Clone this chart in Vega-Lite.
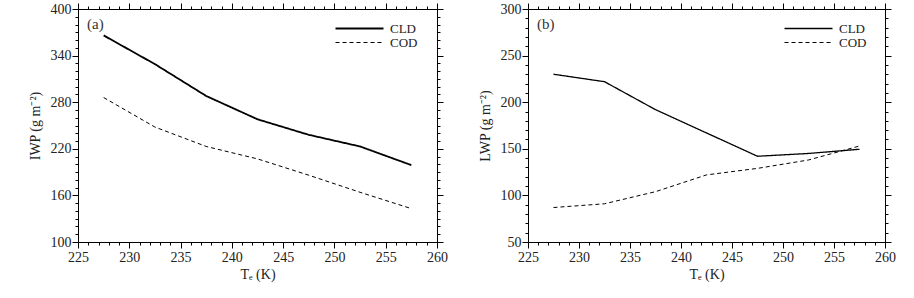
{
  "$schema": "https://vega.github.io/schema/vega-lite/v6.json",
  "padding": {"left": 27, "top": 1, "right": 5, "bottom": 5},
  "config": {
    "font": "Liberation Serif",
    "view": {"stroke": "black", "strokeWidth": 1},
    "axis": {"grid": false, "domain": false, "tickColor": "black", "labelFont": "Liberation Serif", "titleFont": "Liberation Serif", "labelFontSize": 14, "titleFontSize": 14, "labelColor": "#222", "titleColor": "#222", "titleFontWeight": "normal"},
    "title": {"font": "Liberation Serif", "fontSize": 15, "fontWeight": "normal", "color": "#333", "anchor": "start", "frame": "group", "offset": -30, "dx": 9}
  },
  "datasets": {
    "a": [
      {"T": 227.5, "series": "CLD", "value": 366},
      {"T": 232.5, "series": "CLD", "value": 329},
      {"T": 237.5, "series": "CLD", "value": 288},
      {"T": 242.5, "series": "CLD", "value": 258},
      {"T": 247.5, "series": "CLD", "value": 238},
      {"T": 252.5, "series": "CLD", "value": 223},
      {"T": 257.5, "series": "CLD", "value": 199},
      {"T": 227.5, "series": "COD", "value": 286},
      {"T": 232.5, "series": "COD", "value": 248},
      {"T": 237.5, "series": "COD", "value": 223},
      {"T": 242.5, "series": "COD", "value": 207},
      {"T": 247.5, "series": "COD", "value": 186},
      {"T": 252.5, "series": "COD", "value": 164},
      {"T": 257.5, "series": "COD", "value": 143}
    ],
    "b": [
      {"T": 227.5, "series": "CLD", "value": 230},
      {"T": 232.5, "series": "CLD", "value": 222},
      {"T": 237.5, "series": "CLD", "value": 192},
      {"T": 242.5, "series": "CLD", "value": 167},
      {"T": 247.5, "series": "CLD", "value": 142},
      {"T": 252.5, "series": "CLD", "value": 145},
      {"T": 257.5, "series": "CLD", "value": 149.5},
      {"T": 227.5, "series": "COD", "value": 87},
      {"T": 232.5, "series": "COD", "value": 91},
      {"T": 237.5, "series": "COD", "value": 104},
      {"T": 242.5, "series": "COD", "value": 122},
      {"T": 247.5, "series": "COD", "value": 129},
      {"T": 252.5, "series": "COD", "value": 138},
      {"T": 257.5, "series": "COD", "value": 153}
    ]
  },
  "spacing": 29,
  "resolve": {"scale": {"strokeDash": "independent", "strokeWidth": "independent"}, "legend": {"strokeDash": "independent"}},
  "hconcat": [
    {
      "title": "(a)",
      "width": 359, "height": 233,
      "data": {"name": "a"},
      "resolve": {"axis": {"x": "independent", "y": "independent"}},
      "layer": [
        {
          "mark": {"type": "line", "color": "black"},
          "encoding": {
            "x": {"field": "T", "type": "quantitative", "scale": {"domain": [225, 260], "nice": false, "zero": false}, "axis": {"orient": "bottom", "values": [225, 230, 235, 240, 245, 250, 255, 260], "tickSize": 6, "tickColor": "black", "labelPadding": 2, "title": "Tₑ (K)", "titlePadding": 3, "labelFlush": false}},
            "y": {"field": "value", "type": "quantitative", "scale": {"domain": [100, 400], "nice": false, "zero": false}, "axis": {"orient": "left", "values": [100, 160, 220, 280, 340, 400], "tickSize": 6, "tickColor": "black", "labelPadding": 1, "title": "IWP (g  m⁻²)", "titlePadding": 8, "labelFlush": false}},
            "strokeDash": {"field": "series", "type": "nominal", "scale": {"domain": ["CLD", "COD"], "range": [[1, 0], [4, 3]]}, "legend": {"orient": "none", "legendX": 275, "legendY": 13, "title": null, "symbolType": "M-4.8,0H4.8", "symbolSize": 100, "symbolStrokeWidth": 1.2, "labelFontSize": 13, "labelOffset": 24, "rowPadding": 0, "labelColor": "#222", "labelFont": "Liberation Serif"}},
            "strokeWidth": {"field": "series", "type": "nominal", "scale": {"domain": ["CLD", "COD"], "range": [1.8, 1]}, "legend": null}
          }
        },
        {
          "mark": {"type": "line", "strokeOpacity": 0},
          "encoding": {
            "detail": {"field": "series"},
            "x": {"field": "T", "type": "quantitative", "scale": {"domain": [225, 260], "nice": false, "zero": false}, "axis": {"orient": "bottom", "values": [226,227,228,229,231,232,233,234,236,237,238,239,241,242,243,244,246,247,248,249,251,252,253,254,256,257,258,259], "labels": false, "tickSize": 3, "tickColor": "black", "title": null}},
            "y": {"field": "value", "type": "quantitative", "scale": {"domain": [100, 400], "nice": false, "zero": false}, "axis": {"orient": "left", "values": [110,120,130,140,150,170,180,190,200,210,230,240,250,260,270,290,300,310,320,330,350,360,370,380,390], "labels": false, "tickSize": 3, "tickColor": "black", "title": null}}
          }
        },
        {
          "mark": {"type": "line", "strokeOpacity": 0},
          "encoding": {
            "detail": {"field": "series"},
            "x": {"field": "T", "type": "quantitative", "scale": {"domain": [225, 260], "nice": false, "zero": false}, "axis": {"orient": "top", "values": [225, 230, 235, 240, 245, 250, 255, 260], "labels": false, "tickSize": 6, "tickColor": "black", "title": null}},
            "y": {"field": "value", "type": "quantitative", "scale": {"domain": [100, 400], "nice": false, "zero": false}, "axis": {"orient": "right", "values": [100, 160, 220, 280, 340, 400], "labels": false, "tickSize": 6, "tickColor": "black", "title": null}}
          }
        },
        {
          "mark": {"type": "line", "strokeOpacity": 0},
          "encoding": {
            "detail": {"field": "series"},
            "x": {"field": "T", "type": "quantitative", "scale": {"domain": [225, 260], "nice": false, "zero": false}, "axis": {"orient": "top", "values": [226,227,228,229,231,232,233,234,236,237,238,239,241,242,243,244,246,247,248,249,251,252,253,254,256,257,258,259], "labels": false, "tickSize": 3, "tickColor": "black", "title": null}},
            "y": {"field": "value", "type": "quantitative", "scale": {"domain": [100, 400], "nice": false, "zero": false}, "axis": {"orient": "right", "values": [110,120,130,140,150,170,180,190,200,210,230,240,250,260,270,290,300,310,320,330,350,360,370,380,390], "labels": false, "tickSize": 3, "tickColor": "black", "title": null}}
          }
        }
      ]
    },
    {
      "title": "(b)",
      "width": 357, "height": 233,
      "data": {"name": "b"},
      "resolve": {"axis": {"x": "independent", "y": "independent"}},
      "layer": [
        {
          "mark": {"type": "line", "color": "black"},
          "encoding": {
            "x": {"field": "T", "type": "quantitative", "scale": {"domain": [225, 260], "nice": false, "zero": false}, "axis": {"orient": "bottom", "values": [225, 230, 235, 240, 245, 250, 255, 260], "tickSize": 6, "tickColor": "black", "labelPadding": 2, "title": "Tₑ (K)", "titlePadding": 3, "labelFlush": false}},
            "y": {"field": "value", "type": "quantitative", "scale": {"domain": [50, 300], "nice": false, "zero": false}, "axis": {"orient": "left", "values": [50, 100, 150, 200, 250, 300], "tickSize": 6, "tickColor": "black", "labelPadding": 1, "title": "LWP (g  m⁻²)", "titlePadding": 8, "labelFlush": false}},
            "strokeDash": {"field": "series", "type": "nominal", "scale": {"domain": ["CLD", "COD"], "range": [[1, 0], [4, 3]]}, "legend": {"orient": "none", "legendX": 274, "legendY": 13, "title": null, "symbolType": "M-4.8,0H4.8", "symbolSize": 100, "symbolStrokeWidth": 1.2, "labelFontSize": 13, "labelOffset": 24, "rowPadding": 0, "labelColor": "#222", "labelFont": "Liberation Serif"}},
            "strokeWidth": {"field": "series", "type": "nominal", "scale": {"domain": ["CLD", "COD"], "range": [1.3, 1]}, "legend": null}
          }
        },
        {
          "mark": {"type": "line", "strokeOpacity": 0},
          "encoding": {
            "detail": {"field": "series"},
            "x": {"field": "T", "type": "quantitative", "scale": {"domain": [225, 260], "nice": false, "zero": false}, "axis": {"orient": "bottom", "values": [226,227,228,229,231,232,233,234,236,237,238,239,241,242,243,244,246,247,248,249,251,252,253,254,256,257,258,259], "labels": false, "tickSize": 3, "tickColor": "black", "title": null}},
            "y": {"field": "value", "type": "quantitative", "scale": {"domain": [50, 300], "nice": false, "zero": false}, "axis": {"orient": "left", "values": [60,70,80,90,110,120,130,140,160,170,180,190,210,220,230,240,260,270,280,290], "labels": false, "tickSize": 3, "tickColor": "black", "title": null}}
          }
        },
        {
          "mark": {"type": "line", "strokeOpacity": 0},
          "encoding": {
            "detail": {"field": "series"},
            "x": {"field": "T", "type": "quantitative", "scale": {"domain": [225, 260], "nice": false, "zero": false}, "axis": {"orient": "top", "values": [225, 230, 235, 240, 245, 250, 255, 260], "labels": false, "tickSize": 6, "tickColor": "black", "title": null}},
            "y": {"field": "value", "type": "quantitative", "scale": {"domain": [50, 300], "nice": false, "zero": false}, "axis": {"orient": "right", "values": [50, 100, 150, 200, 250, 300], "labels": false, "tickSize": 6, "tickColor": "black", "title": null}}
          }
        },
        {
          "mark": {"type": "line", "strokeOpacity": 0},
          "encoding": {
            "detail": {"field": "series"},
            "x": {"field": "T", "type": "quantitative", "scale": {"domain": [225, 260], "nice": false, "zero": false}, "axis": {"orient": "top", "values": [226,227,228,229,231,232,233,234,236,237,238,239,241,242,243,244,246,247,248,249,251,252,253,254,256,257,258,259], "labels": false, "tickSize": 3, "tickColor": "black", "title": null}},
            "y": {"field": "value", "type": "quantitative", "scale": {"domain": [50, 300], "nice": false, "zero": false}, "axis": {"orient": "right", "values": [60,70,80,90,110,120,130,140,160,170,180,190,210,220,230,240,260,270,280,290], "labels": false, "tickSize": 3, "tickColor": "black", "title": null}}
          }
        }
      ]
    }
  ]
}
